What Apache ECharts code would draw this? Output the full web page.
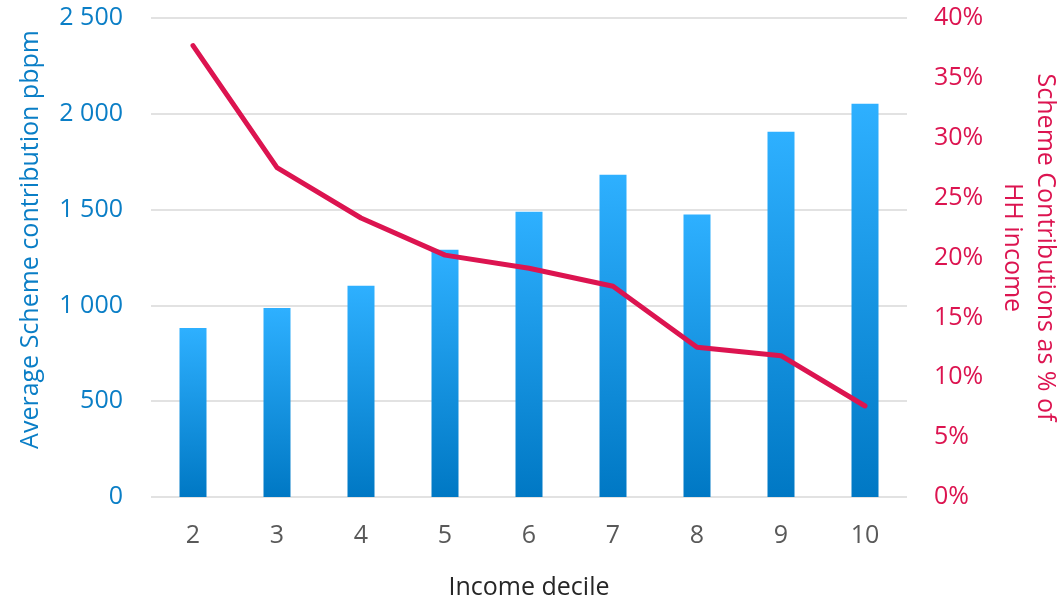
<!DOCTYPE html>
<html><head><meta charset="utf-8">
<script src="https://cdn.jsdelivr.net/npm/echarts@6/dist/echarts.min.js"></script>
<style>html,body{margin:0;padding:0;background:#fff}#c{width:1057px;height:600px}</style>
</head><body><div id="c"></div>
<script>
const categories = ['2','3','4','5','6','7','8','9','10'];
const contribution = [882, 986, 1103, 1291, 1489, 1682, 1474, 1906, 2052];
const pctOfIncome = [37.7, 27.5, 23.3, 20.2, 19.1, 17.6, 12.5, 11.8, 7.6];
const leftTicks = [0, 500, 1000, 1500, 2000, 2500];
const rightTicks = [0, 5, 10, 15, 20, 25, 30, 35, 40];

const FONT = '"Open Sans", "Noto Sans", sans-serif';
const FS = 25;
const fmtSpace = v => String(v).replace(/\B(?=(\d{3})+(?!\d))/g, ' ');

const chart = echarts.init(document.getElementById('c'));
chart.setOption({
  animation: false,
  textStyle: { fontFamily: FONT },
  grid: { left: 151, right: 150, top: 18, bottom: 103, outerBoundsMode: 'none', containLabel: false },
  xAxis: {
    type: 'category', data: categories,
    name: 'Income decile', nameLocation: 'middle', nameGap: 78,
    nameTextStyle: { color: '#262626', fontSize: FS, fontFamily: FONT },
    axisLine: { show: false }, axisTick: { show: false },
    axisLabel: { color: '#595959', fontSize: FS, margin: 26, fontFamily: FONT }
  },
  yAxis: [{
    type: 'value', min: leftTicks[0], max: leftTicks[leftTicks.length-1], interval: 500,
    name: 'Average Scheme contribution pbpm', nameLocation: 'middle', nameGap: 108,
    nameTextStyle: { color: '#0A7EC6', fontSize: FS, fontFamily: FONT, padding: [0, 0, 0, 36] },
    axisLine: { show: false }, axisTick: { show: false },
    axisLabel: { color: '#0A7EC6', fontSize: FS, margin: 28, formatter: v => fmtSpace(v), fontFamily: FONT },
    splitLine: { lineStyle: { color: '#D9D9D9', width: 1.5 } }
  }, {
    type: 'value', min: rightTicks[0], max: rightTicks[rightTicks.length-1], interval: 5,
    name: 'Scheme Contributions as % of\nHH income', nameLocation: 'middle', nameGap: 89, nameRotate: -90,
    nameTextStyle: { color: '#DC1450', fontSize: FS, lineHeight: 33, fontFamily: FONT, padding: [0, 20, 0, 0] },
    axisLine: { show: false }, axisTick: { show: false },
    axisLabel: { color: '#DC1450', fontSize: FS, margin: 27, formatter: '{value}%', fontFamily: FONT },
    splitLine: { show: false }
  }],
  series: [{
    type: 'bar', data: contribution, yAxisIndex: 0, barWidth: 27,
    itemStyle: { color: new echarts.graphic.LinearGradient(0, 0, 0, 1, [
      { offset: 0, color: '#2EB0FF' }, { offset: 1, color: '#0078C4' }]) }
  }, {
    type: 'line', data: pctOfIncome, yAxisIndex: 1, symbol: 'none',
    lineStyle: { color: '#DC1450', width: 5, cap: 'round', join: 'round' }
  }]
});
</script></body></html>
